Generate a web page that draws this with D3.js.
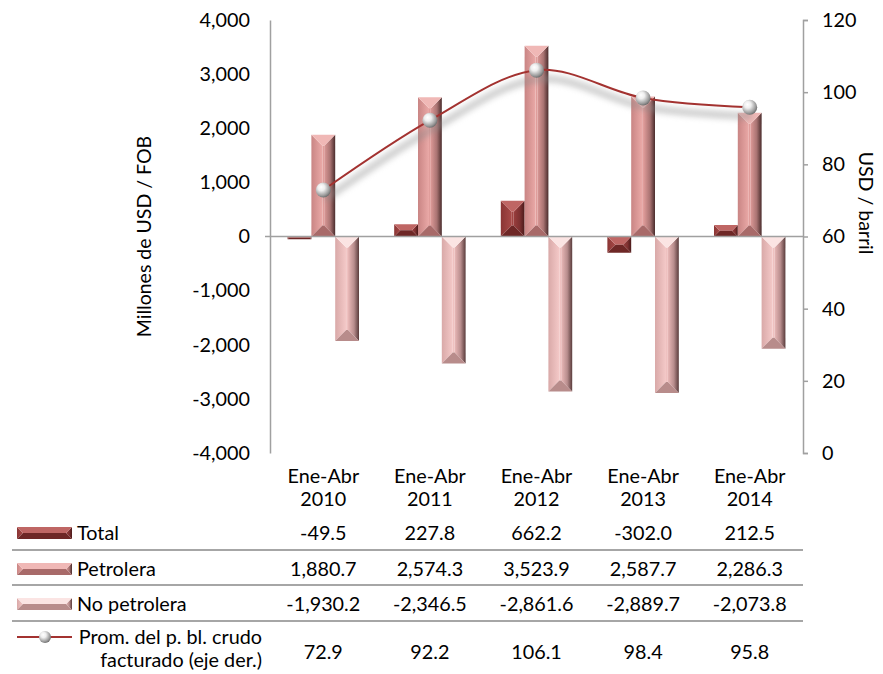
<!DOCTYPE html>
<html>
<head>
<meta charset="utf-8">
<script src="https://cdn.jsdelivr.net/npm/d3@7"></script>
<style>
  body { margin: 0; background: #fff; }
  svg { display: block; font-family: Lato, "Open Sans", sans-serif; }
  text { fill: #000; }
</style>
</head>
<body>
<svg id="chart" width="883" height="674"></svg>
<script>
// Datos
const periodos = ["Ene-Abr 2010", "Ene-Abr 2011", "Ene-Abr 2012", "Ene-Abr 2013", "Ene-Abr 2014"];
const total = [-49.5, 227.8, 662.2, -302.0, 212.5];
const petrolera = [1880.7, 2574.3, 3523.9, 2587.7, 2286.3];
const noPetrolera = [-1930.2, -2346.5, -2861.6, -2889.7, -2073.8];
const precioCrudo = [72.9, 92.2, 106.1, 98.4, 95.8];
const ticksIzq = [-4000, -3000, -2000, -1000, 0, 1000, 2000, 3000, 4000];
const ticksDer = [0, 20, 40, 60, 80, 100, 120];

const svg = d3.select("#chart");
const izq = 270, der = 803, arriba = 20, abajo = 453;
const fs = 19.8;

const x = d3.scaleBand().domain(periodos).range([izq, der]).paddingInner(0.33).paddingOuter(0.165);
const y = d3.scaleLinear().domain([-4000, 4000]).range([abajo, arriba]);
const y2 = d3.scaleLinear().domain([0, 120]).range([abajo, arriba]);

const series = [
  { nombre: "Total", valores: total,
    col: { top: "#bf6664", bottom: "#6e2726", l0: "#8a3534", l1: "#a84a48", r0: "#9a3e3d", r1: "#4a1a1a", inner: "#a24543" } },
  { nombre: "Petrolera", valores: petrolera,
    col: { top: "#f0b8b6", bottom: "#a86a69", l0: "#c98584", l1: "#eaa9a7", r0: "#dc9997", r1: "#4a2c2c", inner: "#e09d9b" } },
  { nombre: "No petrolera", valores: noPetrolera,
    col: { top: "#fbe4e3", bottom: "#b88c8b", l0: "#d9a9a8", l1: "#f4c9c8", r0: "#eab9b8", r1: "#5a3c3c", inner: "#efc1c0" } }
];
const xs = d3.scaleBand().domain(series.map(s => s.nombre)).range([0, x.bandwidth()]);

const defs = svg.append("defs");
series.forEach((s, i) => {
  const gl = defs.append("linearGradient").attr("id", "gl" + i).attr("x1", 0).attr("x2", 1).attr("y1", 0).attr("y2", 0);
  gl.append("stop").attr("offset", "0%").attr("stop-color", s.col.l0);
  gl.append("stop").attr("offset", "100%").attr("stop-color", s.col.l1);
  const gr = defs.append("linearGradient").attr("id", "gr" + i).attr("x1", 0).attr("x2", 1).attr("y1", 0).attr("y2", 0);
  gr.append("stop").attr("offset", "0%").attr("stop-color", s.col.r0);
  gr.append("stop").attr("offset", "55%").attr("stop-color", d3.interpolateRgb(s.col.r0, s.col.r1)(0.35));
  gr.append("stop").attr("offset", "100%").attr("stop-color", s.col.r1);
});
const esfera = defs.append("radialGradient").attr("id", "esfera").attr("cx", "40%").attr("cy", "38%").attr("r", "65%").attr("fx", "35%").attr("fy", "30%");
esfera.append("stop").attr("offset", "0%").attr("stop-color", "#ffffff");
esfera.append("stop").attr("offset", "35%").attr("stop-color", "#eeeeee");
esfera.append("stop").attr("offset", "80%").attr("stop-color", "#9a9a9a");
esfera.append("stop").attr("offset", "100%").attr("stop-color", "#6a6a6a");
const sombra = defs.append("filter").attr("id", "sombra").attr("x", "-10%").attr("y", "-50%").attr("width", "120%").attr("height", "200%");
sombra.append("feGaussianBlur").attr("stdDeviation", 3);

// Barra con bisel
function bisel(g, bx, by, w, h, i, dmax) {
  const d = Math.min(w / 2, h / 2, dmax);
  const poly = pts => pts.map(p => p.join(",")).join(" ");
  const c = series[i].col;
  g.append("rect").attr("x", bx + d).attr("y", by + d).attr("width", Math.max(0, w - 2 * d)).attr("height", Math.max(0, h - 2 * d)).attr("fill", c.inner);
  g.append("polygon").attr("points", poly([[bx, by], [bx + d, by + d], [bx + d, by + h - d], [bx, by + h]])).attr("fill", `url(#gl${i})`);
  g.append("polygon").attr("points", poly([[bx + w, by], [bx + w - d, by + d], [bx + w - d, by + h - d], [bx + w, by + h]])).attr("fill", `url(#gr${i})`);
  g.append("polygon").attr("points", poly([[bx, by], [bx + w, by], [bx + w - d, by + d], [bx + d, by + d]])).attr("fill", c.top);
  g.append("polygon").attr("points", poly([[bx, by + h], [bx + w, by + h], [bx + w - d, by + h - d], [bx + d, by + h - d]])).attr("fill", c.bottom);
}

// Ejes
const ejeIzq = svg.append("g").attr("transform", `translate(${izq},0)`)
  .call(d3.axisLeft(y).tickValues(ticksIzq).tickSize(0).tickSizeOuter(0).tickPadding(20)
    .tickFormat(v => d3.format(",")(v).replace("\u2212", "-")));
const ejeDer = svg.append("g").attr("transform", `translate(${der},0)`)
  .call(d3.axisRight(y2).tickValues(ticksDer).tickSize(5).tickPadding(14));
[ejeIzq, ejeDer].forEach(e => {
  e.selectAll("path, line").attr("stroke", "#a0a0a0").attr("stroke-width", 1.5);
  e.selectAll("text").attr("font-size", fs).attr("fill", "#000").attr("font-family", "Lato");
});

// Barras
const grupos = svg.append("g").selectAll("g").data(periodos).join("g");
grupos.each(function(p, j) {
  const g = d3.select(this);
  series.forEach((s, i) => {
    const v = s.valores[j];
    const bx = x(p) + xs(s.nombre);
    const y0 = y(Math.max(0, v)), y1 = y(Math.min(0, v));
    bisel(g, bx, y0, xs.bandwidth(), y1 - y0, i, 11);
  });
});

// Linea cero
svg.append("line").attr("x1", izq - 5).attr("x2", der).attr("y1", y(0)).attr("y2", y(0))
  .attr("stroke", "#a0a0a0").attr("stroke-width", 1.5);

// Linea de precio
const linea = d3.line().x((d, i) => x(periodos[i]) + x.bandwidth() / 2).y(d => y2(d)).curve(d3.curveCardinal.tension(0));
svg.append("path").attr("d", linea(precioCrudo)).attr("fill", "none").attr("stroke", "#8a8a8a")
  .attr("stroke-width", 6).attr("opacity", 0.5).attr("transform", "translate(2,9)").attr("filter", "url(#sombra)");
svg.append("path").attr("d", linea(precioCrudo)).attr("fill", "none").attr("stroke", "#a33230").attr("stroke-width", 2);
svg.append("g").selectAll("circle").data(precioCrudo).join("circle")
  .attr("cx", (d, i) => x(periodos[i]) + x.bandwidth() / 2).attr("cy", d => y2(d)).attr("r", 7.5)
  .attr("fill", "url(#esfera)");

// Titulos de ejes
svg.append("text").attr("transform", `translate(151,${(arriba + abajo) / 2}) rotate(-90)`)
  .attr("text-anchor", "middle").attr("font-size", 19.5).text("Millones de USD / FOB");
svg.append("text").attr("transform", `translate(859,203) rotate(90)`)
  .attr("text-anchor", "middle").attr("font-size", 19.5).text("USD / barril");

// Etiquetas de categorias
const etq = svg.append("g").selectAll("text").data(periodos).join("text")
  .attr("text-anchor", "middle").attr("font-size", fs)
  .attr("x", p => x(p) + x.bandwidth() / 2);
etq.append("tspan").attr("x", p => x(p) + x.bandwidth() / 2).attr("y", 483).text(p => p.split(" ")[0]);
etq.append("tspan").attr("x", p => x(p) + x.bandwidth() / 2).attr("y", 506).text(p => p.split(" ")[1]);

// Tabla de datos
const fmt = v => d3.format(",.1f")(v).replace("\u2212", "-");
const filas = [
  { nombre: ["Total"], valores: total, yc: 533, tipo: 0 },
  { nombre: ["Petrolera"], valores: petrolera, yc: 569, tipo: 1 },
  { nombre: ["No petrolera"], valores: noPetrolera, yc: 604, tipo: 2 },
  { nombre: ["Prom. del p. bl. crudo", "facturado (eje der.)"], valores: precioCrudo, yc: 652, tipo: 3 }
];
const tabla = svg.append("g");
[550, 585, 621].forEach(yy => {
  tabla.append("line").attr("x1", 12).attr("x2", der).attr("y1", yy).attr("y2", yy)
    .attr("stroke", "#a6a6a6").attr("stroke-width", 2);
});
filas.forEach(f => {
  f.valores.forEach((v, j) => {
    tabla.append("text").attr("x", x(periodos[j]) + x.bandwidth() / 2).attr("y", f.yc + 7)
      .attr("text-anchor", "middle").attr("font-size", fs).text(fmt(v));
  });
  if (f.tipo < 3) {
    bisel(tabla, 17, f.yc - 6, 55, 12, f.tipo, 6);
    tabla.append("text").attr("x", 77).attr("y", f.yc + 7).attr("font-size", fs).text(f.nombre[0]);
  } else {
    tabla.append("line").attr("x1", 17).attr("x2", 72).attr("y1", 637).attr("y2", 637)
      .attr("stroke", "#a33230").attr("stroke-width", 2);
    tabla.append("circle").attr("cx", 45).attr("cy", 637).attr("r", 6).attr("fill", "url(#esfera)");
    tabla.append("text").attr("x", 262).attr("y", 644).attr("text-anchor", "end").attr("font-size", fs).text(f.nombre[0]);
    tabla.append("text").attr("x", 262).attr("y", 667).attr("text-anchor", "end").attr("font-size", fs).text(f.nombre[1]);
  }
});
</script>
</body>
</html>
